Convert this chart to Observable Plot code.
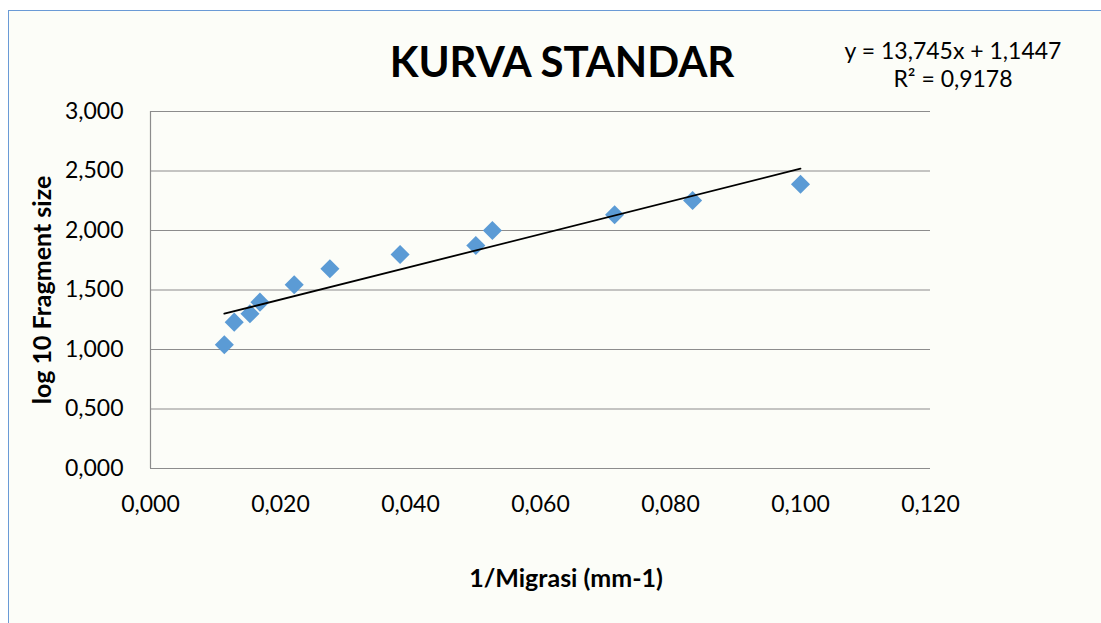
<!DOCTYPE html>
<html>
<head>
<meta charset="utf-8">
<script src="https://cdn.jsdelivr.net/npm/d3@7"></script>
<script src="https://cdn.jsdelivr.net/npm/@observablehq/plot@0.6"></script>
<style>
  html, body { margin: 0; padding: 0; background: #ffffff; }
  #wrap { position: relative; width: 1101px; height: 623px; overflow: hidden; }
  #border { position: absolute; left: 8px; top: 10px; width: 1200px; height: 700px;
            border-left: 1.5px solid #6a9ad6; border-top: 1.5px solid #6a9ad6; background: #fcfdf8; }
  #chart { position: absolute; left: 0; top: 0; }
</style>
</head>
<body>
<div id="wrap"><div id="border"></div><div id="chart"></div></div>
<script>
// Data
const migrasiInv = [0.01136, 0.01288, 0.01530, 0.01684, 0.02211, 0.02760, 0.03840, 0.05005, 0.05260, 0.07140, 0.08340, 0.10000];
const logFragment = [1.040, 1.230, 1.300, 1.398, 1.544, 1.679, 1.798, 1.874, 2.000, 2.132, 2.252, 2.388];
const xTicks = [0, 0.02, 0.04, 0.06, 0.08, 0.10, 0.12];
const yTicks = [0, 0.5, 1.0, 1.5, 2.0, 2.5, 3.0];
const slope = 13.745;
const intercept = 1.1447;
const titleText = "KURVA STANDAR";
const xLabel = "1/Migrasi (mm-1)";
const yLabel = "log 10 Fragment size";
const eqLines = ["y = 13,745x + 1,1447", "R² = 0,9178"];

const points = migrasiInv.map((x, i) => ({x, y: logFragment[i]}));
const xExt = d3.extent(migrasiInv);
const trend = xExt.map(x => ({x, y: slope * x + intercept}));

const loc = d3.formatLocale({decimal: ",", thousands: ".", grouping: [3], currency: ["", ""]});
const fmt = loc.format(".3f");

const W = 1101, H = 623;
const mL = 150, mR = 171, mT = 111, mB = 155;

const plot = Plot.plot({
  width: W, height: H,
  marginLeft: mL, marginRight: mR, marginTop: mT, marginBottom: mB,
  style: {fontFamily: "Lato, 'Open Sans', sans-serif", fontSize: "23px", color: "#000", background: "transparent"},
  x: {domain: [0, 0.12]},
  y: {domain: [0, 3]},
  marks: [
    Plot.gridY(yTicks, {stroke: "#8c8c8c", strokeOpacity: 1, strokeWidth: 1.2}),
    Plot.ruleX([0], {stroke: "#8c8c8c", strokeWidth: 1.2}),
    Plot.axisX(xTicks, {tickSize: 0, tickPadding: 27, tickFormat: fmt, label: null, fontSize: 23}),
    Plot.axisY(yTicks, {tickSize: 0, tickPadding: 27, tickFormat: fmt, label: null, fontSize: 23}),
    Plot.dot(points, {x: "x", y: "y", symbol: "diamond2", r: 8.6, fill: "#5b9bd5", stroke: "none"}),
    Plot.line(trend, {x: "x", y: "y", stroke: "#000", strokeWidth: 1.8})
  ]
});
document.getElementById("chart").appendChild(plot);

const svg = d3.select(plot);
const ff = "Lato, 'Open Sans', sans-serif";
svg.append("text").attr("x", 562).attr("y", 77).attr("text-anchor", "middle")
  .attr("font-family", ff).attr("font-weight", "bold").attr("font-size", 42).attr("fill", "#000").text(titleText);
svg.append("text").attr("x", 566).attr("y", 587).attr("text-anchor", "middle")
  .attr("font-family", ff).attr("font-weight", "bold").attr("font-size", 25).attr("fill", "#000").text(xLabel);
svg.append("text").attr("transform", "translate(51,290) rotate(-90)").attr("text-anchor", "middle")
  .attr("font-family", ff).attr("font-weight", "bold").attr("font-size", 25).attr("fill", "#000").text(yLabel);
eqLines.forEach((t, i) => {
  svg.append("text").attr("x", 953).attr("y", 59 + i * 28).attr("text-anchor", "middle")
    .attr("font-family", ff).attr("font-size", 23).attr("fill", "#000").text(t);
});
</script>
</body>
</html>
